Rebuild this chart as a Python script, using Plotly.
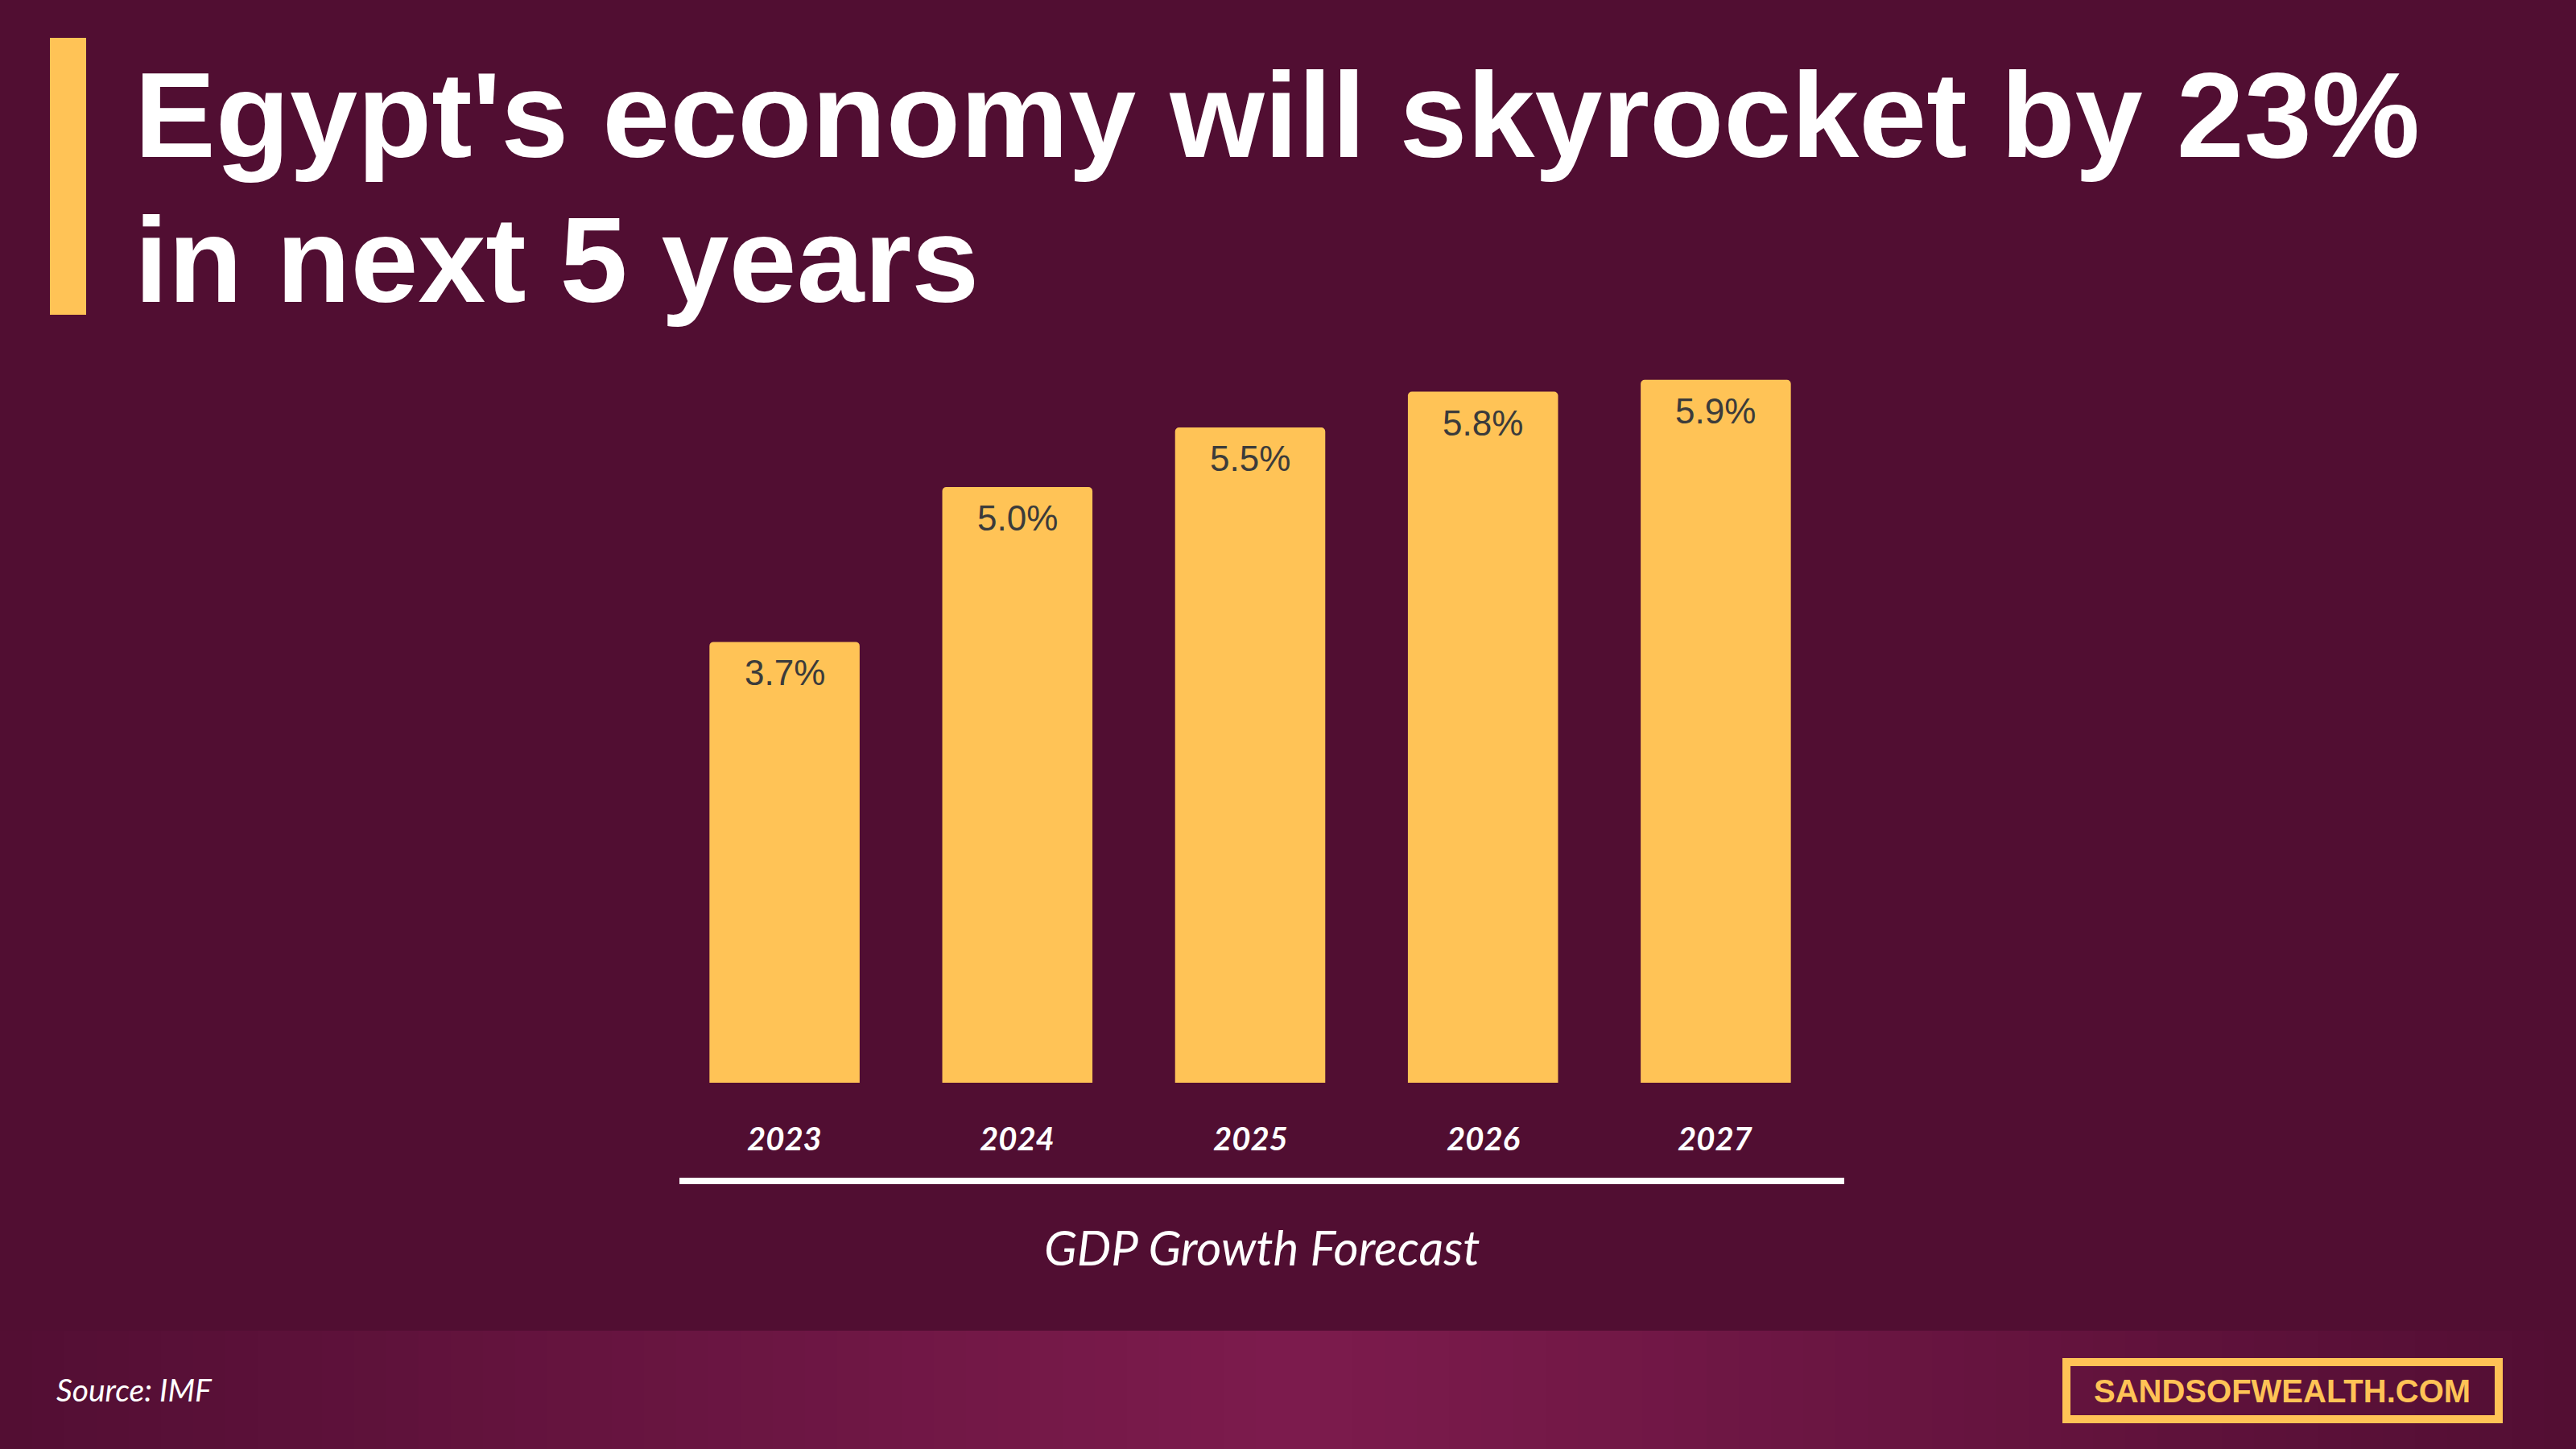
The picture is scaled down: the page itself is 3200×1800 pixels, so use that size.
import plotly.graph_objects as go

years = ["2023", "2024", "2025", "2026", "2027"]
growth = [3.7, 5.0, 5.5, 5.8, 5.9]
labels = ["3.7%", "5.0%", "5.5%", "5.8%", "5.9%"]

title_line1 = "Egypt's economy will skyrocket by 23%"
title_line2 = "in next 5 years"
axis_caption = "GDP Growth Forecast"
source_text = "Source: IMF"
brand_text = "SANDSOFWEALTH.COM"

W, H = 3200, 1800
L, R, T, B = 830, 924, 383, 455
PW, PH = W - L - R, H - T - B

BG = "#510E32"
YELLOW = "#FFC356"
LABEL = "#3B3B3B"


def px(x):
    return (x - L) / PW


def py(y):
    return (H - B - y) / PH


pos = list(range(len(years)))

fig = go.Figure()
fig.add_trace(go.Bar(
    x=pos, y=growth,
    width=0.645,
    marker=dict(color=YELLOW, cornerradius=5, line=dict(width=0)),
    hoverinfo="skip",
))

annotations = []
for p, v, t in zip(pos, growth, labels):
    annotations.append(dict(
        x=p, y=v, xref="x", yref="y", text=t, showarrow=False,
        yanchor="top", yshift=-12,
        font=dict(family="Liberation Sans, Arial", size=44, color=LABEL),
    ))
for p, yr in zip(pos, years):
    annotations.append(dict(
        x=p, y=py(1414), xref="x", yref="paper", text="<b><i>" + yr + "</i></b>", showarrow=False,
        yanchor="middle",
        font=dict(family="Lato", size=40, color="white"),
    ))

# titles
annotations.append(dict(x=px(165), y=py(56), xref="paper", yref="paper", text="<b>" + title_line1 + "</b>",
                        showarrow=False, xanchor="left", yanchor="top",
                        font=dict(family="Liberation Sans, Arial", size=151, color="white")))
annotations.append(dict(x=px(165), y=py(236), xref="paper", yref="paper", text="<b>" + title_line2 + "</b>",
                        showarrow=False, xanchor="left", yanchor="top",
                        font=dict(family="Liberation Sans, Arial", size=151, color="white")))
annotations.append(dict(x=px(1567), y=py(1549), xref="paper", yref="paper", text="<i>" + axis_caption + "</i>",
                        showarrow=False, xanchor="center", yanchor="middle",
                        font=dict(family="Lato", size=60, color="white")))
annotations.append(dict(x=px(68), y=py(1726), xref="paper", yref="paper", text="<i>" + source_text + "</i>",
                        showarrow=False, xanchor="left", yanchor="middle",
                        font=dict(family="Lato", size=39, color="white")))
annotations.append(dict(x=px(2835), y=py(1728), xref="paper", yref="paper", text="<b>" + brand_text + "</b>",
                        showarrow=False, xanchor="center", yanchor="middle",
                        font=dict(family="Liberation Sans, Arial", size=40, color=YELLOW)))

shapes = []
# footer gradient band
n = 80
edge = (82, 14, 51)
mid = (125, 27, 77)
for i in range(n):
    x0 = W * i / n
    x1 = W * (i + 1) / n
    c = (x0 + x1) / 2 / W
    f = 1 - abs(c - 0.5) * 2
    col = tuple(int(round(edge[k] + (mid[k] - edge[k]) * f)) for k in range(3))
    shapes.append(dict(type="rect", xref="paper", yref="paper", x0=px(x0), x1=px(x1 + 1),
                       y0=py(1800), y1=py(1653), line=dict(width=0),
                       fillcolor="rgb(%d,%d,%d)" % col, layer="below"))
# title accent bar
shapes.append(dict(type="rect", xref="paper", yref="paper", x0=px(62), x1=px(107), y0=py(391), y1=py(47),
                   line=dict(width=0), fillcolor=YELLOW))
# axis underline
shapes.append(dict(type="line", xref="paper", yref="paper", x0=px(844), x1=px(2291), y0=py(1467), y1=py(1467),
                   line=dict(color="white", width=8)))
# brand box
shapes.append(dict(type="rect", xref="paper", yref="paper", x0=px(2567), x1=px(3104), y0=py(1763), y1=py(1692),
                   line=dict(color=YELLOW, width=10)))

fig.update_layout(
    width=W, height=H,
    margin=dict(l=L, r=R, t=T, b=B, pad=0),
    paper_bgcolor=BG, plot_bgcolor=BG,
    showlegend=False,
    xaxis=dict(range=[-0.5, len(years) - 0.5], showgrid=False, zeroline=False, showline=False,
               ticks="", showticklabels=False, fixedrange=True),
    yaxis=dict(range=[0, 6.5], showgrid=False, zeroline=False, showline=False,
               showticklabels=False, ticks="", fixedrange=True),
    annotations=annotations,
    shapes=shapes,
)

fig.write_html("out.html", config={"displayModeBar": False},
               post_script="document.body.style.margin='0';document.body.style.background='%s';" % BG)
